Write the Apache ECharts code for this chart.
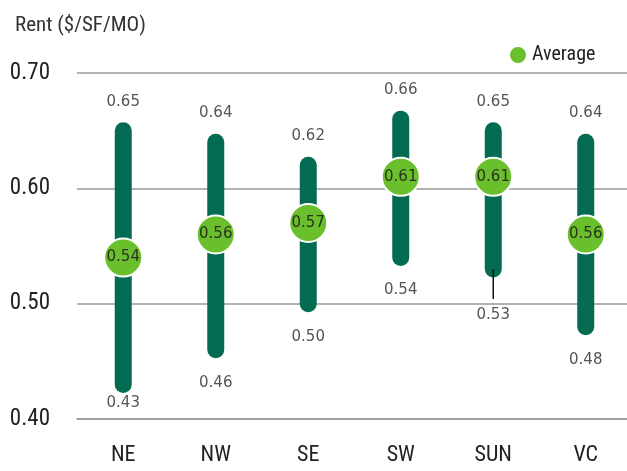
<!DOCTYPE html>
<html>
<head>
<meta charset="utf-8">
<script src="https://cdn.jsdelivr.net/npm/echarts@6/dist/echarts.min.js"></script>
<style>
  html, body { margin: 0; padding: 0; background: #fff; }
  #chart { width: 627px; height: 471px; }
</style>
</head>
<body>
<div id="chart"></div>
<script>
var regions = ['NE', 'NW', 'SE', 'SW', 'SUN', 'VC']
var rentMin = [0.43, 0.46, 0.50, 0.54, 0.53, 0.48]
var rentMax = [0.65, 0.64, 0.62, 0.66, 0.65, 0.64]
var rentAvg = [0.54, 0.56, 0.57, 0.61, 0.61, 0.56]
var yTicks = [0.40, 0.50, 0.60, 0.70]

// label tweaks seen on the original (NE sits close to the axis, SUN has a leader line)
var lowLabelGap = { NE: 19, SUN: 46 }
var leaderLen = { SUN: 30 }

var narrow = '"Roboto Condensed", "DejaVu Sans Condensed", sans-serif'
var valueFont = '15px "DejaVu Sans", sans-serif'

var chart = echarts.init(document.getElementById('chart'))

function renderRange (params, api) {
  var idx = api.value(0)
  var name = regions[idx]
  var top = api.coord([idx, api.value(2)])
  var bottom = api.coord([idx, api.value(1)])
  var children = [{
    type: 'line',
    shape: { x1: top[0], y1: top[1], x2: bottom[0], y2: bottom[1] },
    style: { stroke: '#046b53', lineWidth: 17, lineCap: 'round' }
  }, {
    type: 'text',
    style: {
      text: api.value(2).toFixed(2),
      x: top[0], y: top[1] - 29,
      fill: '#555', font: valueFont, align: 'center', verticalAlign: 'middle'
    }
  }, {
    type: 'text',
    style: {
      text: api.value(1).toFixed(2),
      x: bottom[0], y: bottom[1] + (lowLabelGap[name] || 33),
      fill: '#555', font: valueFont, align: 'center', verticalAlign: 'middle'
    }
  }]
  if (leaderLen[name]) {
    children.push({
      type: 'line',
      z2: 10,
      shape: { x1: bottom[0], y1: bottom[1], x2: bottom[0], y2: bottom[1] + leaderLen[name] },
      style: { stroke: '#111', lineWidth: 1.5 }
    })
  }
  return { type: 'group', children: children }
}

chart.setOption({
  animation: false,
  title: {
    text: 'Rent ($/SF/MO)',
    left: 10,
    top: 10,
    textStyle: { fontFamily: narrow, fontSize: 21, fontWeight: 'normal', color: '#333' }
  },
  legend: {
    data: ['Average'],
    left: 503,
    top: 40,
    icon: 'circle',
    itemWidth: 18,
    itemHeight: 18,
    itemGap: 6,
    textStyle: { fontFamily: narrow, fontSize: 20, color: '#222' }
  },
  grid: { left: 77, right: -5, top: 73, bottom: 52, outerBoundsMode: 'none', containLabel: false },
  xAxis: {
    type: 'category',
    data: regions,
    axisLine: { show: true, lineStyle: { color: '#999', width: 1.5 } },
    axisTick: { show: false },
    axisLabel: { fontFamily: narrow, fontSize: 22, color: '#222', margin: 25 }
  },
  yAxis: {
    type: 'value',
    min: yTicks[0],
    max: yTicks[yTicks.length - 1],
    interval: 0.1,
    axisLine: { show: false },
    axisTick: { show: false },
    splitLine: { lineStyle: { color: '#999', width: 1.5 } },
    axisLabel: {
      fontFamily: narrow,
      fontSize: 23,
      color: '#222',
      margin: 27,
      formatter: function (v) { return v.toFixed(2) }
    }
  },
  series: [{
    name: 'Range',
    type: 'custom',
    renderItem: renderRange,
    encode: { x: 0, y: [1, 2] },
    data: regions.map(function (r, i) { return [i, rentMin[i], rentMax[i]] })
  }, {
    name: 'Average',
    type: 'scatter',
    symbol: 'circle',
    symbolSize: 38,
    itemStyle: { color: '#6abf2c', borderColor: '#fff', borderWidth: 2, opacity: 1 },
    label: {
      show: true,
      position: 'inside',
      color: '#2b3320',
      fontFamily: 'DejaVu Sans',
      fontSize: 15,
      formatter: function (p) { return p.value[1].toFixed(2) }
    },
    data: regions.map(function (r, i) { return [i, rentAvg[i]] })
  }]
})
</script>
</body>
</html>
